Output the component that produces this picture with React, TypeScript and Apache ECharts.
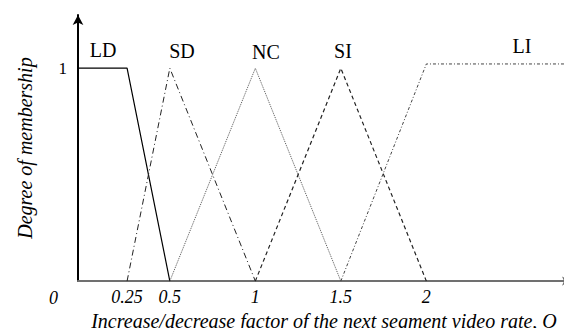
import React, { useEffect, useRef } from "react";
import * as echarts from "echarts";

// x-axis extent (factor O) and tick labels
const xMin = -0.037;
const xMax = 2.84;
const xTickValues = [0.25, 0.5, 1, 1.5, 2];
const yTickValues = [1];

// membership functions: [O, degree]
const ldX = [xMin, 0.25, 0.5];
const ldY = [1, 1, 0];
const sdX = [0.25, 0.5, 1];
const sdY = [0, 1, 0];
const ncX = [0.5, 1, 1.5];
const ncY = [0, 1, 0];
const siX = [1, 1.5, 2];
const siY = [0, 1, 0];
const liX = [1.5, 2, xMax];
const liY = [0, 1.02, 1.02];

const setNames = ["LD", "SD", "NC", "SI", "LI"];

const FONT = "'Liberation Serif', 'Times New Roman', serif";

const zip = (xs: number[], ys: number[]) => xs.map((x, i) => [x, ys[i]]);

export default function App() {
  const ref = useRef<HTMLDivElement>(null);
  useEffect(() => {
    if (!ref.current) return;
    const chart = echarts.init(ref.current, undefined, { renderer: "svg" });
    const mk = (name: string, xs: number[], ys: number[], color: string, width: number, type: any) => ({
      name,
      type: "line",
      data: zip(xs, ys),
      symbol: "none",
      lineStyle: { color, width, type },
      z: 3,
    });
    const labelPos = [
      [103, 50],
      [182, 51],
      [266, 52],
      [343, 51],
      [522, 46],
    ];
    chart.setOption({
      animation: false,
      textStyle: { fontFamily: FONT },
      grid: { left: 78, right: 2, top: 15, bottom: 52 },
      xAxis: {
        type: "value",
        min: xMin,
        max: xMax,
        name: "Increase/decrease factor of the next segment video rate, O",
        nameLocation: "middle",
        nameGap: 27,
        nameTextStyle: { fontFamily: FONT, fontStyle: "italic", fontSize: 20, color: "#000" },
        axisLine: {
          show: true,
          lineStyle: { color: "#707070", width: 2 },
          symbol: ["none", "arrow"],
          symbolSize: [7, 8],
        },
        axisTick: { show: false },
        splitLine: { show: false },
        axisLabel: {
          customValues: xTickValues,
          formatter: (v: number) => String(v),
          fontFamily: FONT,
          fontStyle: "italic",
          fontSize: 18,
          color: "#000",
          margin: 7,
        },
      },
      yAxis: {
        type: "value",
        min: 0,
        max: 1.25,
        name: "Degree of membership",
        nameLocation: "middle",
        nameGap: 43,
        nameRotate: 90,
        nameTextStyle: { fontFamily: FONT, fontStyle: "italic", fontSize: 20, color: "#000" },
        axisLine: {
          show: true,
          onZero: false,
          lineStyle: { color: "#000", width: 2 },
          symbol: ["none", "arrow"],
          symbolSize: [8, 10],
        },
        axisTick: { show: false },
        splitLine: { show: false },
        axisLabel: {
          customValues: yTickValues,
          fontFamily: FONT,
          fontSize: 17,
          color: "#000",
          margin: 11,
        },
      },
      graphic: [
        {
          type: "text",
          left: 49,
          top: 289,
          style: { text: "0", fontFamily: FONT, fontStyle: "italic", fontSize: 18, fill: "#000" },
        },
        ...setNames.map((n, i) => ({
          type: "text",
          x: labelPos[i][0],
          y: labelPos[i][1],
          style: {
            text: n,
            fontFamily: FONT,
            fontSize: 20,
            fill: "#000",
            align: "center",
            verticalAlign: "middle",
          },
        })),
      ],
      series: [
        mk("LD", ldX, ldY, "#000", 1.2, "solid"),
        mk("SD", sdX, sdY, "#222", 1, [6, 3, 1, 3]),
        mk("NC", ncX, ncY, "#555", 1, [1, 1]),
        mk("SI", siX, siY, "#222", 1.2, [4, 3]),
        mk("LI", liX, liY, "#444", 1, [3, 2, 1, 2]),
      ],
    });
    return () => chart.dispose();
  }, []);
  return <div ref={ref} style={{ width: 572, height: 336, margin: -8 }} />;
}
